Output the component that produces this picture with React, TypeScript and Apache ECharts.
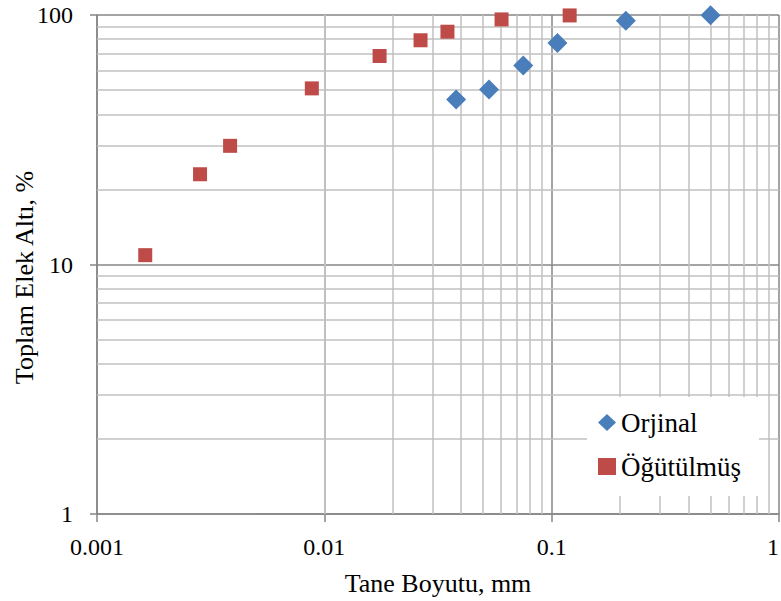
import React, { useEffect, useRef } from "react";
import * as echarts from "echarts";

const orjinalX = [0.038, 0.053, 0.075, 0.106, 0.212, 0.5];
const orjinalY = [45.9, 50.3, 62.7, 77.3, 94.8, 99.8];
const ogutulmusX = [0.00163, 0.00284, 0.00385, 0.00881, 0.0175, 0.0265, 0.0348, 0.0602, 0.12];
const ogutulmusY = [10.9, 23.0, 29.9, 50.8, 68.5, 79.2, 85.7, 96.0, 99.6];
const xTickLabels = ["0.001", "0.01", "0.1", "1"];
const yTickLabels = ["1", "10", "100"];
const xMinorValues = [
  0.002, 0.003, 0.004, 0.005, 0.006, 0.007, 0.008, 0.009,
  0.02, 0.03, 0.04, 0.05, 0.06, 0.07, 0.08, 0.09,
  0.2, 0.3, 0.4, 0.5, 0.6, 0.7, 0.8, 0.9,
];
const yMinorValues = [2, 3, 4, 5, 6, 7, 8, 9, 20, 30, 40, 50, 60, 70, 80, 90];

const FONT = "'Liberation Serif', 'Times New Roman', serif";

export default function App() {
  const ref = useRef<HTMLDivElement>(null);
  useEffect(() => {
    if (!ref.current) return;
    const chart = echarts.init(ref.current, undefined, { renderer: "svg" });
    const minorLine = { color: "#c0c0c0", width: 1.5, type: "solid" as const };
    chart.setOption({
      animation: false,
      backgroundColor: "#fff",
      grid: {
        left: 97,
        top: 15,
        right: 2,
        bottom: 87,
        containLabel: false,
        outerBoundsMode: "none",
      },
      xAxis: {
        type: "log",
        logBase: 10,
        min: 0.001,
        max: 1,
        name: "Tane Boyutu, mm",
        nameLocation: "middle",
        nameGap: 56,
        nameMoveOverlap: false,
        nameTextStyle: { fontFamily: FONT, fontSize: 26, color: "#000" },
        axisLine: { show: true, lineStyle: { color: "#868686", width: 1.5 } },
        axisTick: { show: true, length: 8, lineStyle: { color: "#868686", width: 1.5 } },
        axisLabel: {
          fontFamily: FONT,
          fontSize: 24,
          color: "#000",
          margin: 21,
          alignMaxLabel: "right",
          formatter: (v: number) => xTickLabels[Math.round(Math.log10(v)) + 3] ?? "",
        },
        splitLine: { show: true, lineStyle: { color: "#868686", width: 1.5 } },
      },
      yAxis: {
        type: "log",
        logBase: 10,
        min: 1,
        max: 100,
        name: "Toplam Elek Altı, %",
        nameLocation: "middle",
        nameGap: 60,
        nameMoveOverlap: false,
        nameTextStyle: {
          fontFamily: FONT,
          fontSize: 26,
          color: "#000",
          padding: [0, 26, 0, 0],
        },
        axisLine: { show: true, lineStyle: { color: "#868686", width: 1.5 } },
        axisTick: { show: true, length: 7, lineStyle: { color: "#868686", width: 1.5 } },
        axisLabel: {
          fontFamily: FONT,
          fontSize: 24,
          color: "#000",
          margin: 24,
          formatter: (v: number) => yTickLabels[Math.round(Math.log10(v))] ?? "",
        },
        splitLine: { show: true, lineStyle: { color: "#868686", width: 1.5 } },
      },
      legend: {
        orient: "vertical",
        left: 587,
        top: 397,
        padding: [12, 18, 16, 11],
        itemGap: 17,
        itemWidth: 18,
        itemHeight: 17,
        backgroundColor: "#fff",
        z: 10,
        textStyle: { fontFamily: FONT, fontSize: 27, color: "#000" },
        data: [
          { name: "Orjinal", icon: "diamond" },
          { name: "Öğütülmüş", icon: "rect" },
        ],
      },
      series: [
        {
          name: "grid-minor",
          type: "scatter",
          data: [],
          silent: true,
          z: 1,
          markLine: {
            silent: true,
            symbol: "none",
            z: 1,
            label: { show: false },
            lineStyle: minorLine,
            emphasis: { disabled: true },
            data: [
              ...xMinorValues.map((v) => ({ xAxis: v })),
              ...yMinorValues.map((v) => ({ yAxis: v })),
            ],
          },
        },
        {
          name: "Orjinal",
          type: "scatter",
          symbol: "diamond",
          symbolSize: 20,
          z: 3,
          itemStyle: { color: "#4a7ebb", opacity: 1 },
          data: orjinalX.map((x, i) => [x, orjinalY[i]]),
        },
        {
          name: "Öğütülmüş",
          type: "scatter",
          symbol: "rect",
          symbolSize: 14,
          z: 3,
          itemStyle: { color: "#be4b48", opacity: 1 },
          data: ogutulmusX.map((x, i) => [x, ogutulmusY[i]]),
        },
      ],
    });
    return () => chart.dispose();
  }, []);
  return (
    <div
      ref={ref}
      style={{ position: "fixed", left: 0, top: 0, width: 781, height: 601 }}
    />
  );
}
